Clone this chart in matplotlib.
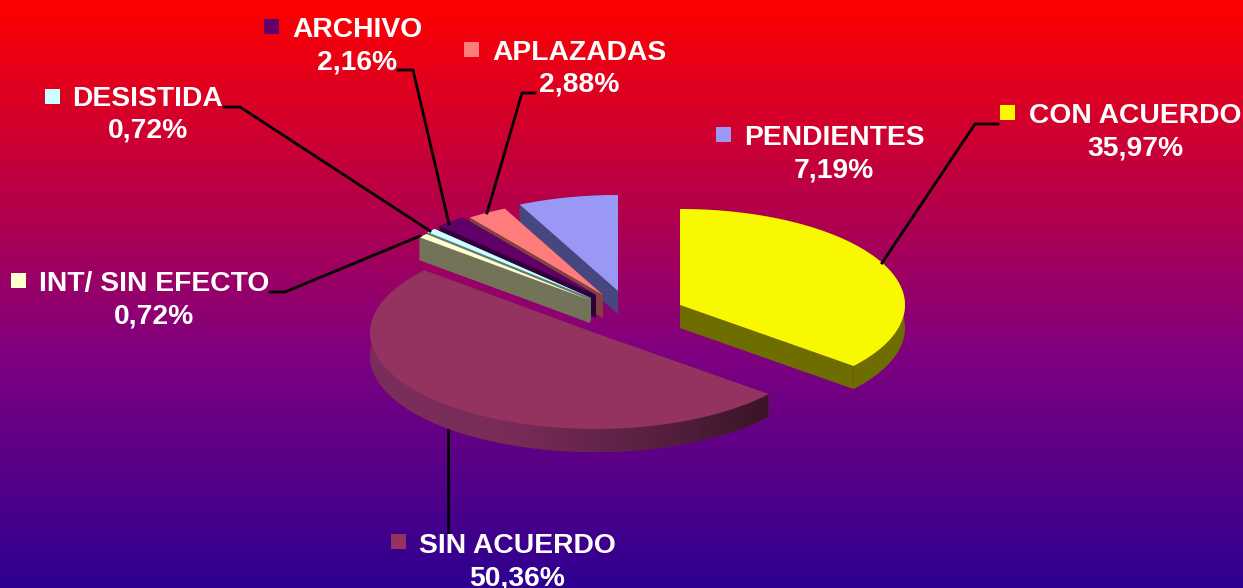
import matplotlib
matplotlib.use("Agg")
import matplotlib.pyplot as plt
from matplotlib.colors import LinearSegmentedColormap
from matplotlib.patches import Polygon
import numpy as np

labels = ['CON ACUERDO', 'SIN ACUERDO', 'INT/ SIN EFECTO', 'DESISTIDA', 'ARCHIVO', 'APLAZADAS', 'PENDIENTES']
values = [35.97, 50.36, 0.72, 0.72, 2.16, 2.88, 7.19]
percent_text = ['35,97%', '50,36%', '0,72%', '0,72%', '2,16%', '2,88%', '7,19%']

top_colors = ['#f8f800', '#943260', '#ffffcc', '#ccffff', '#600068', '#ff7c7c', '#9999f5']
side_colors = ['#6e6e00', '#6e2850', '#73735a', '#5e7a7a', '#320038', '#824040', '#47477f']

# where each exploded slice has its centre, pixels
centers = [(680, 305), (595, 333), (590, 300), (591, 298), (596, 295), (603, 295), (618, 291)]
# label text centre x, y of the name line, y of the percent line, square corner
label_pos = [(1135, 116, 148, 1000, 105), (517, 546, 578, 391, 534), (154, 284, 316, 11, 273),
             (148, 99, 131, 45, 89), (357, 30, 62, 264, 19), (579, 53, 85, 464, 42), (834, 138, 170, 716, 127)]
leaders = [[(882, 263), (975, 124), (998, 124)],
           [(448, 430), (448, 532)],
           [(420, 236), (285, 292), (270, 292)],
           [(430, 231), (240, 107), (224, 107)],
           [(449, 224), (413, 70), (398, 70)],
           [(487, 213), (522, 93), (535, 93)]]

RX = 225
RY = 96
DEPTH = 23

fig = plt.figure(figsize=(12.43, 5.88), dpi=100)
ax = fig.add_axes([0, 0, 1, 1])

#background gradient, red at the top to dark blue at the bottom
bg = LinearSegmentedColormap.from_list('bg', [(0, '#ff0000'), (0.6, '#800080'), (1, '#2e0090')])
ax.imshow(np.linspace(0, 1, 588).reshape(-1, 1), cmap=bg, extent=(0, 1243, 588, 0), aspect='auto', zorder=0)


def outline(center, start, end):
    """Top face of a slice, angles clockwise from the top in degrees"""
    t = np.radians(np.linspace(start, end, 80))
    x = center[0] + RX * np.sin(t)
    y = center[1] - RY * np.cos(t)
    return x, y


edges = np.concatenate([[0], np.cumsum(values)]) * 3.6

# back slices first
for i in [6, 5, 4, 3, 2, 1, 0]:
    c = centers[i]
    x, y = outline(c, edges[i], edges[i + 1])
    z = 2 + (6 - i) * 0.1

    # cut faces
    for px, py in [(x[0], y[0]), (x[-1], y[-1])]:
        quad = [(c[0], c[1]), (px, py), (px, py + DEPTH), (c[0], c[1] + DEPTH)]
        ax.add_patch(Polygon(quad, closed=True, fc=side_colors[i], ec='none', zorder=z))

    # outer wall
    wall = np.column_stack([np.r_[x, x[::-1]], np.r_[y, y[::-1] + DEPTH]])
    wall_patch = Polygon(wall, closed=True, fc=side_colors[i], ec='none', zorder=z)
    ax.add_patch(wall_patch)
    if labels[i] == 'SIN ACUERDO':
        shade = LinearSegmentedColormap.from_list('wall', ['#7a2c5c', '#7a2c58', '#5c2244', '#3a1428'])
        im = ax.imshow(np.linspace(0, 1, 200).reshape(1, -1), cmap=shade,
                       extent=(x.min(), x.max(), y.max() + DEPTH, y.min()), aspect='auto', zorder=z)
        im.set_clip_path(wall_patch)

    # top face
    top = np.column_stack([np.r_[c[0], x], np.r_[c[1], y]])
    ax.add_patch(Polygon(top, closed=True, fc=top_colors[i], ec='none', zorder=z + 0.05))

for line in leaders:
    pts = np.array(line)
    ax.plot(pts[:, 0], pts[:, 1], color='black', lw=2, zorder=5)

for i in range(len(labels)):
    tx, y1, y2, sx, sy = label_pos[i]
    ax.add_patch(Polygon([(sx, sy), (sx + 15, sy), (sx + 15, sy + 15), (sx, sy + 15)], closed=True,
                         fc=top_colors[i], ec='none', zorder=6))
    ax.text(tx, y1, labels[i], color='white', fontsize=20.3, fontweight='bold', family='Liberation Sans',
            ha='center', va='center', zorder=7)
    ax.text(tx, y2, percent_text[i], color='white', fontsize=20.3, fontweight='bold', family='Liberation Sans',
            ha='center', va='center', zorder=7)

ax.set_xlim(0, 1243)
ax.set_ylim(588, 0)
ax.axis('off')
plt.savefig('out.png', dpi=100)
